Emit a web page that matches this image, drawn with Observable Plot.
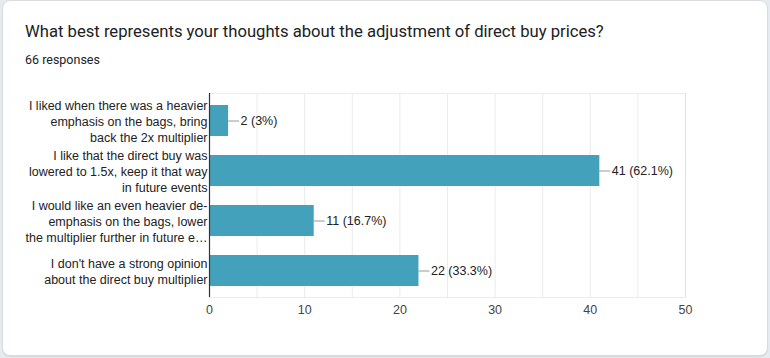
<!DOCTYPE html>
<html>
<head>
<meta charset="utf-8">
<script src="https://cdn.jsdelivr.net/npm/d3@7"></script>
<script src="https://cdn.jsdelivr.net/npm/@observablehq/plot@0.6"></script>
<style>
  html, body { margin: 0; padding: 0; background: #e4ecf1; }
  #wrap { position: relative; width: 770px; height: 358px; overflow: hidden; }
  #card { position: absolute; left: 2px; top: 0px; width: 764px; height: 354px; background: #fff; border: 1px solid #dadce0; border-radius: 8px; box-shadow: 0 1px 1px rgba(0,0,0,0.08); }
  #title { position: absolute; left: 25px; top: 22px; font: 16.65px Roboto, sans-serif; line-height: 20px; color: #202124; white-space: nowrap; }
  #sub { position: absolute; left: 25px; top: 52px; font: 12.5px Roboto, sans-serif; line-height: 16px; color: #202124; }
  #chart { position: absolute; left: 0; top: 80px; }
</style>
</head>
<body>
<div id="wrap">
  <div id="card"></div>
  <div id="title">What best represents your thoughts about the adjustment of direct buy prices?</div>
  <div id="sub">66 responses</div>
  <div id="chart"></div>
</div>
<script>
const categories = [
  "I liked when there was a heavier\nemphasis on the bags, bring\nback the 2x multiplier",
  "I like that the direct buy was\nlowered to 1.5x, keep it that way\nin future events",
  "I would like an even heavier de-\nemphasis on the bags, lower\nthe multiplier further in future e…",
  "I don't have a strong opinion\nabout the direct buy multiplier"
];
const counts = [2, 41, 11, 22];
const percents = ["3%", "62.1%", "16.7%", "33.3%"];
const xTicks = [0, 10, 20, 30, 40, 50];
const gridTicks = [0, 5, 10, 15, 20, 25, 30, 35, 40, 45];

const data = categories.map((c, i) => ({label: c, value: counts[i], pct: percents[i]}));

const chart = Plot.plot({
  width: 770,
  height: 245,
  marginLeft: 209,
  marginRight: 85,
  marginTop: 13,
  marginBottom: 28,
  style: {fontFamily: "'Liberation Sans', Arial, sans-serif", fontSize: "12.5px", color: "#222", background: "transparent"},
  x: {domain: [0, 50]},
  y: {domain: categories, paddingInner: 0.39, paddingOuter: 0.2},
  marks: [
    Plot.gridX(gridTicks, {stroke: "#ebebeb", strokeOpacity: 1}),
    Plot.frame({stroke: "#ebebeb"}),
    Plot.ruleX([50], {stroke: "#e0e0e0"}),
    Plot.barX(data, {y: "label", x: "value", fill: "#43a1bc"}),
    Plot.ruleY(data, {y: "label", x1: "value", x2: "value", insetRight: -11, stroke: "#999", strokeWidth: 1}),
    Plot.text(data, {y: "label", x: "value", text: d => `${d.value} (${d.pct})`, dx: 12, textAnchor: "start", fill: "#222", fontSize: 12.5}),
    Plot.ruleX([0], {stroke: "#333", strokeWidth: 1.2}),
    Plot.axisY({tickSize: 0, tickPadding: 2, label: null, lineHeight: 1.28, fill: "#222", fontSize: 12.5}),
    Plot.axisX(xTicks, {tickSize: 0, tickPadding: 8, label: null, fill: "#444", fontSize: 12.5})
  ]
});
document.getElementById("chart").appendChild(chart);
</script>
</body>
</html>
